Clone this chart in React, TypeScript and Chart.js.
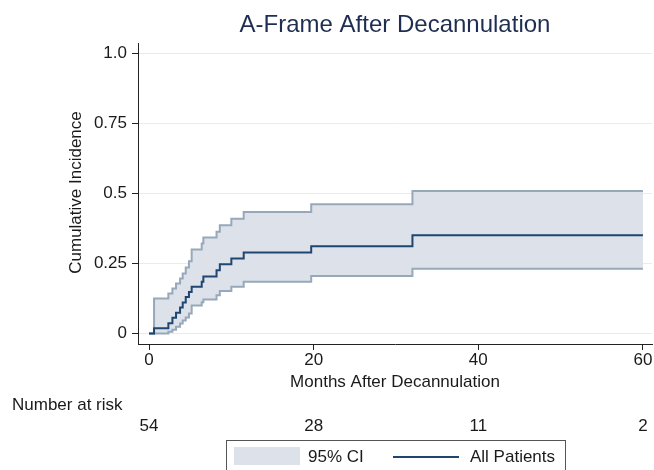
import React, { useEffect, useRef } from 'react';
import { Chart, registerables } from 'chart.js';

Chart.register(...registerables);

// ---- data ----
const months = [0, 0.61, 2.35, 2.84, 3.28, 3.77, 4.09, 4.46, 4.85, 5.18, 6.4, 6.6, 8.2, 8.6, 10.0, 11.5, 19.7, 32.0, 60];
const incidence = [0, 0.0185, 0.037, 0.056, 0.074, 0.093, 0.111, 0.13, 0.148, 0.167, 0.185, 0.204, 0.226, 0.247, 0.268, 0.289, 0.312, 0.351, 0.351];
const upperCI = [0, 0.125, 0.143, 0.161, 0.179, 0.196, 0.214, 0.236, 0.258, 0.3, 0.321, 0.343, 0.363, 0.387, 0.41, 0.434, 0.462, 0.509, 0.509];
const lowerCI = [0, 0, 0.006, 0.013, 0.024, 0.036, 0.046, 0.057, 0.071, 0.1, 0.112, 0.121, 0.137, 0.152, 0.167, 0.185, 0.205, 0.231, 0.231];
const riskTimes = [0, 20, 40, 60];
const atRisk = [54, 28, 11, 2];
const xTicks = [0, 20, 40, 60];
const yTicks = [0, 0.25, 0.5, 0.75, 1.0];
const yTickLabels = ['0', '0.25', '0.5', '0.75', '1.0'];

const TITLE = 'A-Frame After Decannulation';
const X_TITLE = 'Months After Decannulation';
const Y_TITLE = 'Cumulative Incidence';
const RISK_LABEL = 'Number at risk';
const LEGEND_CI = '95% CI';
const LEGEND_MAIN = 'All Patients';

const FONT = '"Liberation Sans", Arial, Helvetica, sans-serif';
const MAIN_COLOR = '#1f4670';
const CI_LINE = '#97a8bb';
const CI_FILL = '#dde2ea';
const TEXT = '#1a1a1a';

const toPts = (ys: number[]) => months.map((m, i) => ({ x: m, y: ys[i] }));

const overlay = {
  id: 'overlay',
  afterDraw(chart: any) {
    const { ctx, chartArea, scales } = chart;
    const xs = scales.x;
    ctx.save();
    // title
    ctx.fillStyle = '#1f2d52';
    ctx.font = `24px ${FONT}`;
    ctx.textAlign = 'center';
    ctx.textBaseline = 'alphabetic';
    ctx.fillText(TITLE, (chartArea.left + chartArea.right) / 2, 32);

    // axis titles
    ctx.fillStyle = TEXT;
    ctx.font = `17px ${FONT}`;
    ctx.fillText(X_TITLE, (chartArea.left + chartArea.right) / 2, 386.5);

    ctx.save();
    ctx.translate(81, 192.5);
    ctx.rotate(-Math.PI / 2);
    ctx.textAlign = 'center';
    ctx.textBaseline = 'alphabetic';
    ctx.fillText(Y_TITLE, 0, 0);
    ctx.restore();

    // number at risk
    ctx.textAlign = 'left';
    ctx.fillText(RISK_LABEL, 12, 409.5);
    ctx.textAlign = 'center';
    riskTimes.forEach((t, i) => {
      ctx.fillText(String(atRisk[i]), xs.getPixelForValue(t), 430.5);
    });

    // legend
    ctx.strokeStyle = '#555';
    ctx.lineWidth = 1;
    ctx.strokeRect(226.5, 440.5, 339, 40);
    ctx.fillStyle = CI_FILL;
    ctx.fillRect(234, 447, 66, 18);
    ctx.fillStyle = TEXT;
    ctx.textAlign = 'left';
    ctx.textBaseline = 'middle';
    ctx.fillText(LEGEND_CI, 308, 457);
    ctx.strokeStyle = MAIN_COLOR;
    ctx.lineWidth = 2;
    ctx.beginPath();
    ctx.moveTo(393, 457);
    ctx.lineTo(459, 457);
    ctx.stroke();
    ctx.fillText(LEGEND_MAIN, 470, 457);
    ctx.restore();
  },
};

export default function App() {
  const ref = useRef<HTMLCanvasElement | null>(null);
  useEffect(() => {
    if (!ref.current) return;
    Chart.defaults.font.family = FONT;
    const chart = new Chart(ref.current, {
      type: 'line',
      data: {
        datasets: [
          {
            label: LEGEND_MAIN,
            data: toPts(incidence),
            borderColor: MAIN_COLOR,
            borderWidth: 2,
            stepped: 'before',
            pointRadius: 0,
            fill: false,
          },
          {
            label: 'upper',
            data: toPts(upperCI),
            borderColor: CI_LINE,
            borderWidth: 2,
            stepped: 'before',
            pointRadius: 0,
            backgroundColor: CI_FILL,
            fill: '+1',
          },
          {
            label: 'lower',
            data: toPts(lowerCI),
            borderColor: CI_LINE,
            borderWidth: 2,
            stepped: 'before',
            pointRadius: 0,
            fill: false,
          },
        ],
      },
      options: {
        animation: false,
        responsive: false,
        devicePixelRatio: 1,
        layout: { padding: { left: 0, right: 2, top: 43, bottom: 0 } },
        plugins: {
          legend: { display: false },
          title: { display: false },
          tooltip: { enabled: false },
          filler: { drawTime: 'beforeDatasetsDraw' },
        } as any,
        scales: {
          x: {
            type: 'linear',
            min: -1.34,
            max: 61.1,
            afterBuildTicks: (s: any) => {
              s.ticks = xTicks.map((v) => ({ value: v }));
            },
            afterFit: (s: any) => {
              s.height = 126;
              s.paddingLeft = 0;
              s.paddingRight = 0;
            },
            grid: { drawOnChartArea: false, tickLength: 6, tickColor: '#222', tickWidth: 1 },
            border: { color: '#222', width: 1 },
            ticks: {
              color: TEXT,
              font: { size: 17 },
              padding: 0,
              maxRotation: 0,
              autoSkip: false,
              callback: (v: any) => String(v),
            },
          },
          y: {
            type: 'linear',
            min: -0.0375,
            max: 1.0375,
            afterBuildTicks: (s: any) => {
              s.ticks = yTicks.map((v) => ({ value: v }));
            },
            afterFit: (s: any) => {
              s.width = 138;
              s.paddingTop = 0;
              s.paddingBottom = 0;
            },
            grid: { color: '#e6edf1', tickColor: '#222', tickLength: 6, lineWidth: 1 },
            border: { color: '#222', width: 1 },
            ticks: {
              color: TEXT,
              font: { size: 17 },
              padding: 5,
              autoSkip: false,
              callback: (v: any) => {
                const i = yTicks.indexOf(Number(v));
                return i >= 0 ? yTickLabels[i] : '';
              },
            },
          },
        },
      } as any,
      plugins: [overlay],
    });
    return () => chart.destroy();
  }, []);
  return (
    <div style={{ position: 'absolute', left: 0, top: 0, width: 654, height: 470, background: '#fff' }}>
      <canvas ref={ref} width={654} height={470} style={{ display: 'block', width: 654, height: 470 }} />
    </div>
  );
}
